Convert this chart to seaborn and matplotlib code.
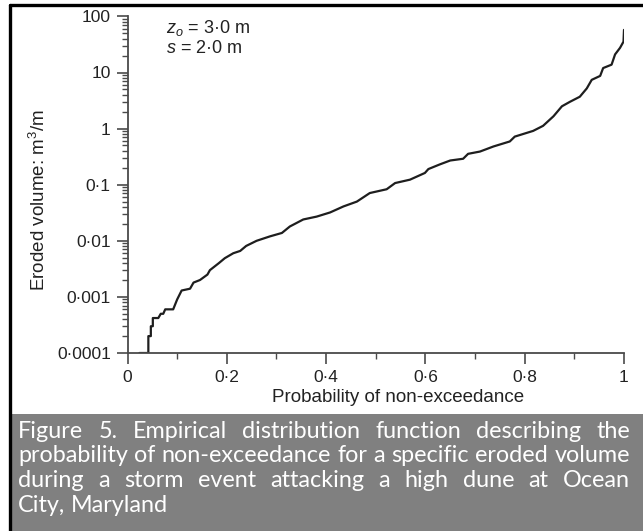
import matplotlib
matplotlib.use("Agg")
import matplotlib.pyplot as plt
import matplotlib.ticker as mticker
from matplotlib.patches import Rectangle
from matplotlib.lines import Line2D
import seaborn as sns

# empirical distribution (stair corners kept where visible)
prob = [0.024, 0.042, 0.042, 0.047, 0.047, 0.051, 0.051, 0.062, 0.067, 0.072,
        0.076, 0.092, 0.100, 0.109, 0.126,
        0.133, 0.146, 0.161, 0.166, 0.184, 0.196, 0.213, 0.227, 0.239, 0.260,
        0.287, 0.311, 0.327, 0.354, 0.381, 0.408, 0.435, 0.462, 0.488, 0.522,
        0.539, 0.569, 0.599, 0.606, 0.629, 0.650, 0.676, 0.686, 0.710, 0.737,
        0.770, 0.780, 0.817, 0.837, 0.858, 0.875, 0.891, 0.911, 0.925, 0.935,
        0.952, 0.958, 0.975, 0.982, 0.992, 0.999, 1.000]
volume = [0.0001, 0.0001, 0.0002, 0.0002, 0.0003, 0.0003, 0.00042, 0.00042, 0.0005, 0.0005,
          0.0006, 0.0006, 0.0009, 0.0013, 0.0014,
          0.0018, 0.002, 0.0025, 0.003, 0.004, 0.0049, 0.006, 0.0066, 0.0081, 0.010,
          0.012, 0.0138, 0.018, 0.024, 0.027, 0.032, 0.041, 0.050, 0.071, 0.083,
          0.107, 0.123, 0.162, 0.19, 0.23, 0.27, 0.29, 0.355, 0.39, 0.48,
          0.59, 0.72, 0.91, 1.12, 1.66, 2.5, 3.0, 3.7, 5.2, 7.4,
          8.7, 12, 13.8, 21, 27.5, 35.5, 57.5]

x_ticks = [0, 0.2, 0.4, 0.6, 0.8, 1]
x_labels = ['0', '0·2', '0·4', '0·6', '0·8', '1']
y_ticks = [1e-4, 1e-3, 1e-2, 1e-1, 1, 10, 100]
y_labels = ['0·0001', '0·001', '0·01', '0·1', '1', '10', '100']

caption_lines = [
    'Figure 5. Empirical distribution function describing the',
    'probability of non-exceedance for a specific eroded volume',
    'during a storm event attacking a high dune at Ocean',
    'City, Maryland',
]

sns.set_style('ticks')
plt.rcParams['font.family'] = ['Liberation Sans', 'DejaVu Sans']
plt.rcParams['mathtext.fontset'] = 'custom'
plt.rcParams['mathtext.rm'] = 'Liberation Sans'
plt.rcParams['mathtext.it'] = 'Liberation Sans:italic'

W, H = 643, 531
fig = plt.figure(figsize=(W / 100, H / 100), dpi=100)
fig.patch.set_facecolor('white')

ax = fig.add_axes([127.5 / W, 178 / H, 496.5 / W, 336.6 / H])
sns.lineplot(x=prob, y=volume, estimator=None, color='#1e1e1e',
             linewidth=1.6, ax=ax)
ax.set_yscale('log')
ax.set_xlim(0, 1)
ax.set_ylim(1e-4, 100)

ax.set_xticks(x_ticks)
ax.set_xticklabels(x_labels)
ax.xaxis.set_minor_locator(mticker.FixedLocator([0.1, 0.3, 0.5, 0.7, 0.9]))
ax.set_yticks(y_ticks)
ax.set_yticklabels(y_labels)
ax.yaxis.set_minor_locator(mticker.LogLocator(base=10, subs=(2, 3, 4, 5, 6, 7, 8, 9)))
ax.yaxis.set_minor_formatter(mticker.NullFormatter())

spine_col = '#4a4a4a'
txt_col = '#222222'
sns.despine(ax=ax)
for s in ['left', 'bottom']:
    ax.spines[s].set_color(spine_col)
    ax.spines[s].set_linewidth(1.3)
ax.tick_params(which='major', length=8, width=1.2, color=spine_col,
               labelsize=12.5, labelcolor=txt_col, pad=4)
ax.tick_params(which='minor', length=4, width=1.0, color=spine_col)

ax.set_xlabel('Probability of non-exceedance', fontsize=13.5, color=txt_col)
ax.set_ylabel('Eroded volume: m$^3$/m', fontsize=13.5, color=txt_col)
ax.xaxis.set_label_coords(0.545, -0.108)
ax.yaxis.set_label_coords(-0.158, 0.455)

ax.text(0.078, 0.965, '$z_o$ = 3·0 m', transform=ax.transAxes, fontsize=13,
        color=txt_col, va='center')
ax.text(0.078, 0.905, '$s$ = 2·0 m', transform=ax.transAxes, fontsize=13,
        color=txt_col, va='center')

# frame and caption panel
fig.add_artist(Line2D([9.5 / W, 9.5 / W], [0, 1 - 5 / H], color='black', linewidth=2.4))
fig.add_artist(Line2D([9.5 / W, 1], [1 - 5 / H, 1 - 5 / H], color='black', linewidth=2.4))
fig.add_artist(Rectangle((11 / W, 0), 1 - 11 / W, 117 / H, transform=fig.transFigure,
                         facecolor='#808080', edgecolor='none'))

renderer = fig.canvas.get_renderer()
cap_font = ['Lato', 'DejaVu Sans']
probe = fig.text(0, 0, caption_lines[1], fontsize=10, family=cap_font)
cap_size = 10 * 612 / probe.get_window_extent(renderer).width
probe.remove()

sp1 = fig.text(0, 0, 'x x', fontsize=cap_size, family=cap_font)
sp2 = fig.text(0, 0, 'xx', fontsize=cap_size, family=cap_font)
space_w = sp1.get_window_extent(renderer).width - sp2.get_window_extent(renderer).width
sp1.remove()
sp2.remove()

left_px, right_px = 18, 630
baselines = [438, 462.5, 487, 511.5]
for i, line in enumerate(caption_lines):
    words = line.split()
    texts = [fig.text(0, 1 - baselines[i] / H, w, fontsize=cap_size, family=cap_font,
                      color='white', va='baseline') for w in words]
    widths = [t.get_window_extent(renderer).width for t in texts]
    if i < len(caption_lines) - 1:
        gap = (right_px - left_px - sum(widths)) / (len(words) - 1)
    else:
        gap = space_w
    xpos = left_px
    for t, w in zip(texts, widths):
        t.set_x(xpos / W)
        xpos += w + gap

fig.savefig('out.png', dpi=100)
